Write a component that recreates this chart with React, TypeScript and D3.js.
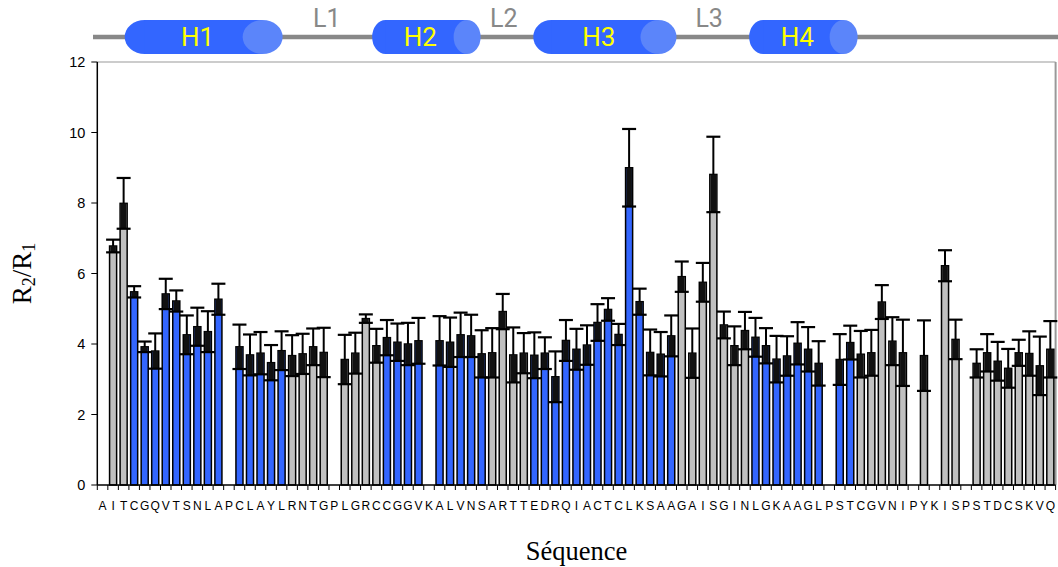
import React from "react";
import * as d3 from "d3";

// ---------- data ----------
const sequence: string[] = "AITCGQVTSNLAPCLAYLRNTGPLGRCCGGVKALVNSARTTEDRQIACTCLKSAAGAISGINLGKAAGLPSTCGVNIPYKISPSTDCSKVQ".split("");

// R2/R1 value per residue (null = not measured)
const r2r1: (number | null)[] = [
  null, 6.78, 7.99, 5.48, 3.92, 3.80, 5.42, 5.22, 4.26, 4.49,
  4.35, 5.27, null, 3.92, 3.69, 3.74, 3.47, 3.81, 3.67, 3.72,
  3.92, 3.76, null, 3.56, 3.74, 4.72, 3.95, 4.18, 4.05, 4.00,
  4.09, null, 4.09, 4.05, 4.26, 4.23, 3.72, 3.75, 4.92, 3.69,
  3.74, 3.68, 3.74, 3.07, 4.10, 3.85, 3.97, 4.61, 4.98, 4.27,
  9.00, 5.20, 3.76, 3.71, 4.23, 5.91, 3.74, 5.75, 8.81, 4.54,
  3.95, 4.38, 4.19, 3.95, 3.57, 3.66, 4.02, 3.85, 3.45, null,
  3.56, 4.04, 3.71, 3.75, 5.19, 4.08, 3.75, null, 3.67, null,
  6.22, 4.13, null, 3.45, 3.75, 3.51, 3.31, 3.75, 3.73, 3.38,
  3.85,
];

const r2r1Err: number[] = [
  0, 0.18, 0.72, 0.16, 0.15, 0.50, 0.43, 0.30, 0.55, 0.54,
  0.58, 0.44, 0, 0.63, 0.58, 0.60, 0.50, 0.55, 0.58, 0.57,
  0.52, 0.70, 0, 0.70, 0.58, 0.12, 0.48, 0.50, 0.53, 0.60,
  0.65, 0, 0.70, 0.70, 0.63, 0.60, 0.67, 0.70, 0.50, 0.78,
  0.57, 0.65, 0.45, 0.72, 0.58, 0.58, 0.56, 0.52, 0.32, 0.30,
  1.10, 0.37, 0.65, 0.63, 0.58, 0.43, 0.70, 0.55, 1.07, 0.38,
  0.55, 0.53, 0.55, 0.50, 0.66, 0.56, 0.60, 0.63, 0.63, 0,
  0.72, 0.48, 0.66, 0.65, 0.48, 0.68, 0.94, 0, 1.00, 0,
  0.44, 0.56, 0, 0.40, 0.53, 0.55, 0.55, 0.37, 0.63, 0.83,
  0.80,
];

// 1 = residue in helix (blue), 0 = loop (grey)
const inHelix: number[] = [
  0, 0, 0, 1, 1, 1, 1, 1, 1, 1,
  1, 1, 0, 1, 1, 1, 1, 1, 0, 0,
  0, 0, 0, 0, 0, 0, 0, 1, 1, 1,
  1, 0, 1, 1, 1, 1, 1, 0, 0, 0,
  0, 1, 1, 1, 1, 1, 1, 1, 1, 1,
  1, 1, 1, 1, 1, 0, 0, 0, 0, 0,
  0, 0, 1, 1, 1, 1, 1, 1, 1, 0,
  1, 1, 0, 0, 0, 0, 0, 0, 0, 0,
  0, 0, 0, 0, 0, 0, 0, 0, 0, 0,
  0,
];

const yTicks: number[] = [0, 2, 4, 6, 8, 10, 12];

// secondary structure schematic (residue positions)
const helixNames: string[] = ["H1", "H2", "H3", "H4"];
const helixStart: number[] = [2.6, 26.1, 41.4, 61.9];
const helixEnd: number[] = [17.6, 36.4, 55.0, 72.2];
const helixCapRx: number[] = [20, 13.5, 18, 14];
const loopNames: string[] = ["L1", "L2", "L3"];
const loopCenter: number[] = [21.8, 38.6, 58.1];

// ---------- layout ----------
const W = 1058;
const H = 567;
const left = 97.3;
const right = 1055.6;
const top = 62;
const bottom = 485;

const BLUE = "#3366ff";
const GREY = "#c0c0c0";

export default function App() {
  const idx = sequence.map((_, i) => i);
  const x = d3.scaleBand<number>().domain(idx).range([left, right]).paddingInner(0.33).paddingOuter(0.165);
  const pos = d3.scaleLinear().domain([0, sequence.length]).range([left, right]);
  const y = d3.scaleLinear().domain([0, 12]).range([bottom, top]);
  const bw = x.bandwidth();
  const capHalf = 7;
  const sans = "'Liberation Sans', Arial, sans-serif";
  const serif = "'Liberation Serif', 'Times New Roman', serif";
  const ssY = 37;
  const ry = 17;

  return (
    <svg width={W} height={H} style={{ position: "absolute", left: 0, top: 0, background: "#fff" }}>
      {/* secondary structure header */}
      <line x1={93} x2={W} y1={ssY} y2={ssY} stroke="#888" strokeWidth={4.5} />
      {helixNames.map((name, k) => {
        const x0 = pos(helixStart[k]);
        const x1 = pos(helixEnd[k]);
        const rx = helixCapRx[k];
        return (
          <g key={name}>
            <ellipse cx={x0 + rx} cy={ssY} rx={rx} ry={ry} fill={BLUE} />
            <rect x={x0 + rx} y={ssY - ry} width={x1 - x0 - 2 * rx} height={2 * ry} fill={BLUE} />
            <ellipse cx={x1 - rx} cy={ssY} rx={rx} ry={ry} fill="#5b85fa" />
            <text x={(x0 + x1) / 2 - 6} y={ssY + 9} textAnchor="middle" fill="#ffff00"
              fontFamily="Roboto, sans-serif" fontSize={26}>{name}</text>
          </g>
        );
      })}
      {loopNames.map((name, k) => (
        <text key={name} x={pos(loopCenter[k])} y={27} textAnchor="middle" fill="#888"
          fontFamily="Roboto, sans-serif" fontSize={25}>{name}</text>
      ))}

      {/* plot frame */}
      <line x1={left} x2={right} y1={top} y2={top} stroke="#999" strokeWidth={1} />
      <line x1={right} x2={right} y1={top} y2={bottom} stroke="#999" strokeWidth={2} />

      {/* bars */}
      {idx.map((i) => {
        const v = r2r1[i];
        if (v == null) return null;
        const e = r2r1Err[i];
        const bx = x(i) as number;
        const cx = bx + bw / 2;
        return (
          <g key={i}>
            <rect x={bx} y={y(v)} width={bw} height={bottom - y(v)}
              fill={inHelix[i] ? BLUE : GREY} stroke="#000" strokeWidth={1.5} />
            <rect x={bx + 0.7} y={y(v)} width={bw - 1.4} height={y(v - e) - y(v)} fill="#111" />
            <line x1={cx} x2={cx} y1={y(v)} y2={y(v + e)} stroke="#000" strokeWidth={2} />
            <line x1={cx - capHalf} x2={cx + capHalf} y1={y(v + e)} y2={y(v + e)} stroke="#000" strokeWidth={2.2} />
            <line x1={cx - capHalf} x2={cx + capHalf} y1={y(v - e)} y2={y(v - e)} stroke="#000" strokeWidth={2.2} />
          </g>
        );
      })}

      {/* x axis */}
      <line x1={left} x2={right} y1={bottom} y2={bottom} stroke="#000" strokeWidth={1.5} />
      {d3.range(sequence.length + 1).map((k) => (
        <line key={k} x1={pos(k)} x2={pos(k)} y1={bottom} y2={bottom + 5} stroke="#000" strokeWidth={1} />
      ))}
      {sequence.map((s, i) => (
        <text key={i} x={(x(i) as number) + bw / 2} y={510} textAnchor="middle"
          fontFamily={sans} fontSize={12} fill="#000">{s}</text>
      ))}

      {/* y axis */}
      <line x1={left} x2={left} y1={top} y2={bottom} stroke="#000" strokeWidth={1.5} />
      {yTicks.map((t) => (
        <g key={t}>
          <line x1={left - 6} x2={left} y1={y(t)} y2={y(t)} stroke="#000" strokeWidth={1} />
          <text x={left - 12} y={y(t)} dy="0.35em" textAnchor="end" fontFamily={sans} fontSize={14.5} fill="#000">{t}</text>
        </g>
      ))}

      {/* titles */}
      <text transform={`translate(31, ${(top + bottom) / 2}) rotate(-90)`} textAnchor="middle"
        fontFamily={serif} fontSize={27} fill="#000">
        R<tspan fontSize={18} dy={4}>2</tspan><tspan dy={-4}>/R</tspan><tspan fontSize={18} dy={4}>1</tspan>
      </text>
      <text x={(left + right) / 2} y={560} textAnchor="middle" fontFamily={serif} fontSize={26.5} fill="#000">Séquence</text>
    </svg>
  );
}
